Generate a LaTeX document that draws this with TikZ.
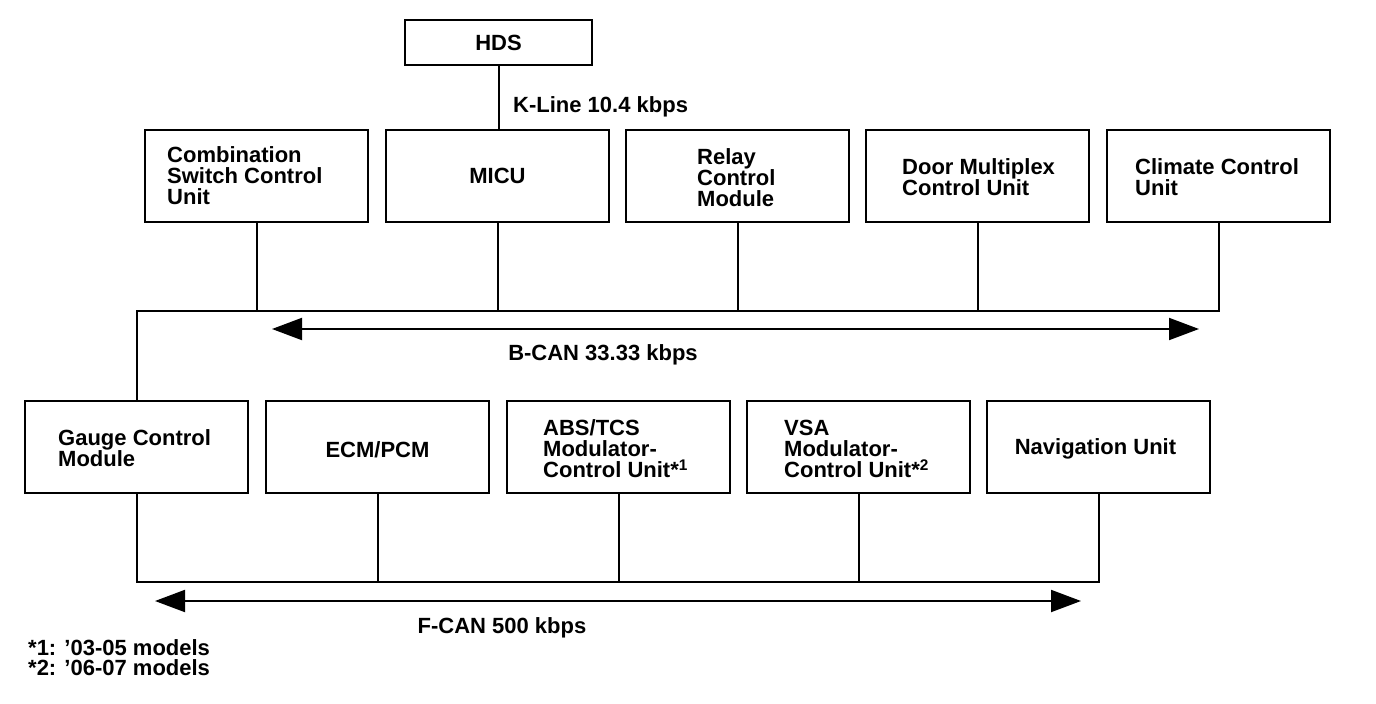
\documentclass[tikz,border=0pt]{standalone}
\usepackage{fontspec}
\setmainfont{Liberation Sans}
\usetikzlibrary{arrows.meta}
\newcommand\dgfont{\fontsize{22pt}{21pt}\selectfont\bfseries}
\begin{document}
\begin{tikzpicture}[x=1pt,y=-1pt,
  box/.style={draw, line width=2pt, minimum width=223pt, minimum height=92pt, inner sep=0pt},
  lbl/.style={font=\dgfont, inner sep=0pt, align=left, anchor=west},
  clbl/.style={font=\dgfont, inner sep=0pt, align=center},
  wire/.style={line width=2pt},
  busarrow/.style={line width=2pt, {Triangle[length=30pt,width=22pt]}-{Triangle[length=30pt,width=22pt]}}]
\useasboundingbox (0,0) rectangle (1376,704);
% HDS
\node[box, minimum width=187pt, minimum height=45pt] (hds) at (498.5,42.5) {};
\node[clbl] (hdst) at (hds.center) {HDS};
% top row
\node[box] (comb) at (256.5,175.5) {};
\node[box] (micu) at (497.5,175.5) {};
\node[box] (relay) at (737.5,175.5) {};
\node[box] (door) at (977.5,175.5) {};
\node[box] (clim) at (1218.5,175.5) {};
\node[lbl] (combt) at (167,176) {Combination\\Switch Control\\Unit};
\node[clbl] (micut) at (497.5,176) {MICU};
\node[lbl] (relayt) at (697,178) {Relay\\Control\\Module};
\node[lbl] (doort) at (902,177.5) {Door Multiplex\\Control Unit};
\node[lbl] (climt) at (1135,177.5) {Climate Control\\Unit};
% bottom row
\node[box] (gauge) at (136.5,446.5) {};
\node[box] (ecm) at (377.5,446.5) {};
\node[box] (abs) at (618.5,446.5) {};
\node[box] (vsa) at (858.5,446.5) {};
\node[box] (nav) at (1098.5,446.5) {};
\node[lbl] (gauget) at (58,448) {Gauge Control\\Module};
\node[clbl] (ecmt) at (377.5,450) {ECM/PCM};
\node[lbl] (abst) at (543,449) {ABS/TCS\\Modulator-\\Control Unit*\textsuperscript{1}};
\node[lbl] (vsat) at (784,449) {VSA\\Modulator-\\Control Unit*\textsuperscript{2}};
\node[clbl] (navt) at (1095.5,449) {Navigation Unit};
% K-Line
\draw[wire] (hds.south) -- (hds.south |- micu.north);
\node[lbl] (kline) at (513,107) {K-Line 10.4 kbps};
% B-CAN bus
\coordinate (bR) at (1218.5,311);
\draw[wire] (gauge.north) |- (bR) -- (clim.south);
\draw[wire] (comb.south) -- (comb.south |- bR);
\draw[wire] (micu.south) -- (micu.south |- bR);
\draw[wire] (relay.south) -- (relay.south |- bR);
\draw[wire] (door.south) -- (door.south |- bR);
\coordinate (bA1) at (272,329);
\coordinate (bA2) at (1199,329);
\draw[busarrow] (bA1) -- (bA2);
\node[clbl] (bcan) at (603,355) {B-CAN 33.33 kbps};
% F-CAN bus
\coordinate (fR) at (1098.5,582);
\draw[wire] (gauge.south) |- (fR) -- (nav.south);
\draw[wire] (ecm.south) -- (ecm.south |- fR);
\draw[wire] (abs.south) -- (abs.south |- fR);
\draw[wire] (vsa.south) -- (vsa.south |- fR);
\coordinate (fA1) at (155,601);
\coordinate (fA2) at (1081,601);
\draw[busarrow] (fA1) -- (fA2);
\node[clbl] (fcan) at (502,628) {F-CAN 500 kbps};
% footnotes
\node[lbl, font=\fontsize{22pt}{20pt}\selectfont\bfseries] (notes) at (28,658) {*1: ’03-05 models\\*2: ’06-07 models};
\end{tikzpicture}
\end{document}
